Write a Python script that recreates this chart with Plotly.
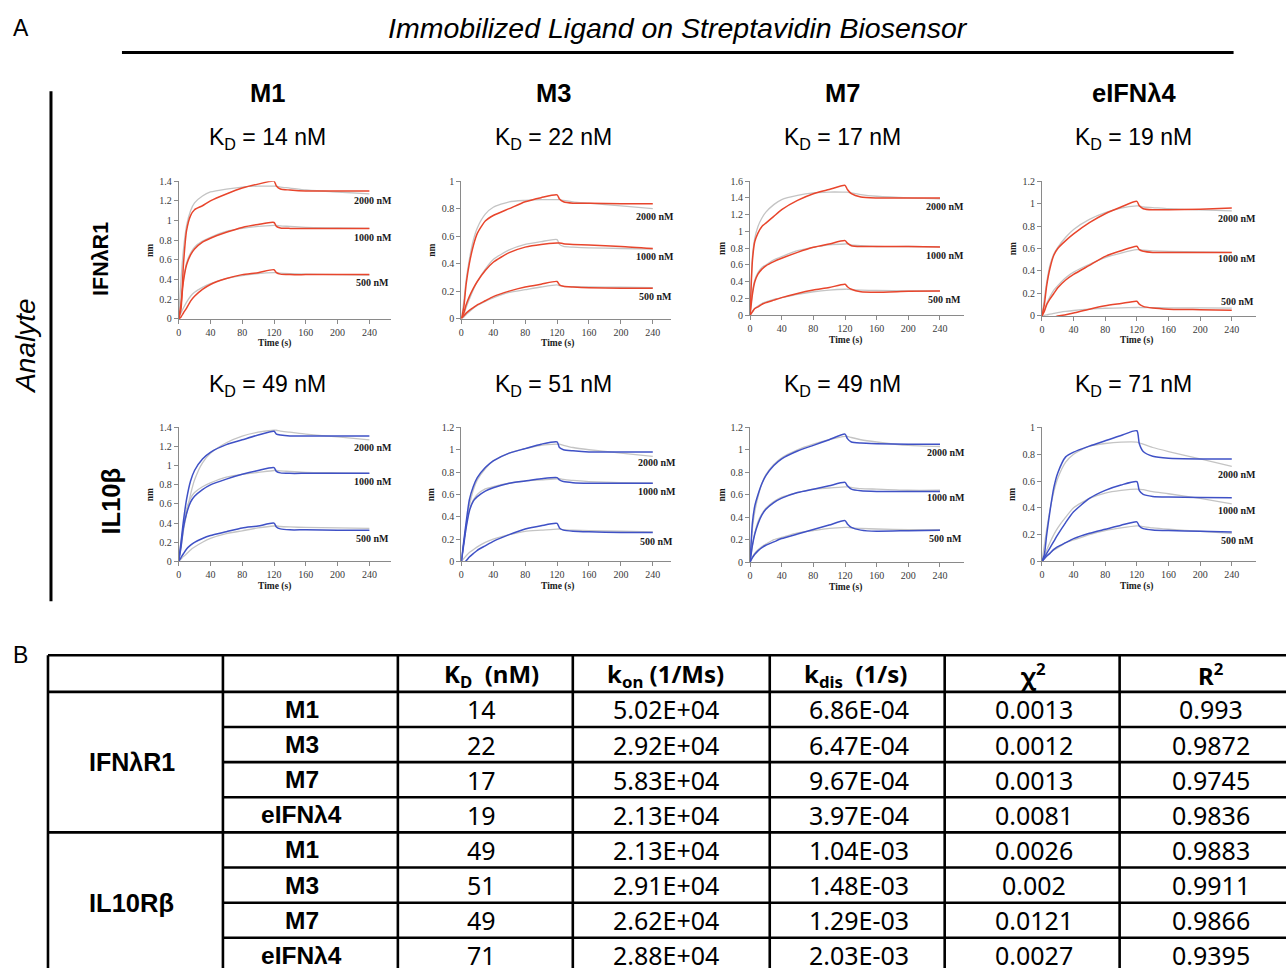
import plotly.graph_objects as go

W, H = 1286, 968
# small empirical correction so that rendered pixel positions match the reference
def px(x): return ((x - 2.0) / 0.998) / W
def py(y): return 1 - ((y - 4.5) / 0.9895) / H

# ---------------- data ----------------
T = [0, 3, 6, 10, 15, 20, 30, 40, 60, 80, 100, 120, 123, 128, 140, 160, 200, 240]

# IFNλR1 analyte, ligand M1
r1_m1_obs_2000 = [0, 0.10, 0.55, 0.90, 1.05, 1.11, 1.15, 1.20, 1.27, 1.33, 1.37, 1.40, 1.35, 1.32, 1.31, 1.30, 1.30, 1.30]
r1_m1_fit_2000 = [0, 0.40, 0.70, 0.95, 1.10, 1.18, 1.25, 1.29, 1.32, 1.34, 1.35, 1.35, 1.35, 1.34, 1.33, 1.31, 1.29, 1.27]
r1_m1_obs_1000 = [0, 0.15, 0.38, 0.55, 0.65, 0.71, 0.78, 0.82, 0.88, 0.93, 0.96, 0.98, 0.94, 0.925, 0.92, 0.92, 0.92, 0.92]
r1_m1_fit_1000 = [0, 0.20, 0.40, 0.57, 0.67, 0.73, 0.79, 0.83, 0.89, 0.92, 0.94, 0.95, 0.95, 0.945, 0.94, 0.93, 0.925, 0.92]
r1_m1_obs_500 = [0, 0.02, 0.06, 0.11, 0.18, 0.23, 0.30, 0.35, 0.41, 0.45, 0.47, 0.50, 0.47, 0.455, 0.45, 0.45, 0.45, 0.45]
r1_m1_fit_500 = [0, 0.06, 0.11, 0.17, 0.23, 0.27, 0.32, 0.36, 0.41, 0.44, 0.46, 0.47, 0.47, 0.465, 0.46, 0.455, 0.45, 0.445]

# IFNλR1 analyte, ligand M3
r1_m3_obs_2000 = [0, 0.08, 0.25, 0.40, 0.53, 0.62, 0.71, 0.75, 0.80, 0.85, 0.88, 0.90, 0.87, 0.85, 0.84, 0.84, 0.835, 0.835]
r1_m3_fit_2000 = [0, 0.12, 0.28, 0.43, 0.57, 0.66, 0.76, 0.81, 0.85, 0.86, 0.865, 0.865, 0.865, 0.86, 0.85, 0.84, 0.82, 0.80]
r1_m3_obs_1000 = [0, 0.04, 0.10, 0.16, 0.22, 0.27, 0.35, 0.41, 0.48, 0.52, 0.54, 0.55, 0.55, 0.545, 0.54, 0.535, 0.525, 0.51]
r1_m3_fit_1000 = [0, 0.03, 0.08, 0.14, 0.21, 0.27, 0.36, 0.43, 0.50, 0.54, 0.56, 0.575, 0.54, 0.525, 0.52, 0.515, 0.51, 0.505]
r1_m3_obs_500 = [0, 0.02, 0.04, 0.06, 0.08, 0.10, 0.13, 0.16, 0.20, 0.23, 0.25, 0.27, 0.245, 0.235, 0.23, 0.225, 0.22, 0.22]
r1_m3_fit_500 = [0, 0.01, 0.03, 0.05, 0.075, 0.095, 0.125, 0.15, 0.19, 0.21, 0.23, 0.245, 0.24, 0.235, 0.232, 0.23, 0.228, 0.225]

# IFNλR1 analyte, ligand M7
r1_m7_obs_2000 = [0, 0.65, 0.88, 0.98, 1.06, 1.10, 1.18, 1.26, 1.37, 1.45, 1.50, 1.55, 1.50, 1.45, 1.41, 1.40, 1.40, 1.40]
r1_m7_fit_2000 = [0, 0.70, 0.92, 1.06, 1.16, 1.23, 1.32, 1.38, 1.43, 1.46, 1.47, 1.47, 1.47, 1.46, 1.44, 1.42, 1.40, 1.39]
r1_m7_obs_1000 = [0, 0.25, 0.40, 0.49, 0.55, 0.59, 0.64, 0.68, 0.75, 0.81, 0.85, 0.89, 0.86, 0.83, 0.82, 0.82, 0.82, 0.815]
r1_m7_fit_1000 = [0, 0.28, 0.42, 0.51, 0.57, 0.60, 0.66, 0.70, 0.77, 0.81, 0.84, 0.85, 0.85, 0.84, 0.83, 0.82, 0.82, 0.815]
r1_m7_obs_500 = [0, 0.04, 0.08, 0.10, 0.13, 0.15, 0.18, 0.21, 0.26, 0.30, 0.33, 0.37, 0.34, 0.31, 0.28, 0.275, 0.285, 0.29]
r1_m7_fit_500 = [0, 0.05, 0.08, 0.11, 0.14, 0.16, 0.19, 0.21, 0.25, 0.28, 0.30, 0.31, 0.31, 0.305, 0.30, 0.295, 0.29, 0.29]

# IFNλR1 analyte, ligand eIFNλ4
r1_e4_obs_2000 = [0, 0.10, 0.27, 0.42, 0.54, 0.60, 0.67, 0.73, 0.83, 0.91, 0.97, 1.02, 0.98, 0.955, 0.945, 0.945, 0.95, 0.96]
r1_e4_fit_2000 = [0, 0.15, 0.30, 0.45, 0.55, 0.61, 0.70, 0.77, 0.86, 0.92, 0.96, 0.98, 0.98, 0.97, 0.965, 0.955, 0.945, 0.935]
r1_e4_obs_1000 = [0, 0.04, 0.10, 0.15, 0.20, 0.25, 0.32, 0.37, 0.45, 0.53, 0.58, 0.62, 0.59, 0.575, 0.565, 0.565, 0.565, 0.565]
r1_e4_fit_1000 = [0, 0.05, 0.11, 0.17, 0.23, 0.27, 0.34, 0.39, 0.46, 0.52, 0.56, 0.59, 0.59, 0.585, 0.58, 0.575, 0.57, 0.565]
r1_e4_obs_500 = [-0.05, -0.045, -0.04, -0.03, -0.015, 0.0, 0.01, 0.025, 0.06, 0.09, 0.11, 0.13, 0.105, 0.085, 0.07, 0.06, 0.055, 0.05]
r1_e4_fit_500 = [0, 0.005, 0.01, 0.015, 0.022, 0.03, 0.04, 0.048, 0.06, 0.068, 0.072, 0.075, 0.075, 0.074, 0.073, 0.072, 0.071, 0.07]

# IL10Rβ analyte, ligand M1
r2_m1_obs_2000 = [0, 0.20, 0.42, 0.65, 0.84, 0.95, 1.07, 1.14, 1.22, 1.27, 1.32, 1.36, 1.33, 1.32, 1.31, 1.31, 1.31, 1.31]
r2_m1_fit_2000 = [0, 0.15, 0.32, 0.50, 0.70, 0.85, 1.03, 1.13, 1.24, 1.31, 1.35, 1.37, 1.37, 1.36, 1.35, 1.33, 1.30, 1.27]
r2_m1_obs_1000 = [0, 0.15, 0.35, 0.50, 0.62, 0.68, 0.75, 0.80, 0.86, 0.91, 0.95, 0.98, 0.94, 0.925, 0.92, 0.92, 0.92, 0.92]
r2_m1_fit_1000 = [0, 0.20, 0.38, 0.55, 0.66, 0.72, 0.78, 0.82, 0.88, 0.91, 0.93, 0.95, 0.95, 0.945, 0.94, 0.93, 0.925, 0.92]
r2_m1_obs_500 = [0, 0.04, 0.08, 0.13, 0.17, 0.20, 0.24, 0.27, 0.31, 0.35, 0.37, 0.40, 0.36, 0.34, 0.33, 0.33, 0.325, 0.325]
r2_m1_fit_500 = [0, 0.025, 0.05, 0.08, 0.12, 0.15, 0.20, 0.24, 0.29, 0.32, 0.35, 0.37, 0.37, 0.365, 0.36, 0.355, 0.35, 0.345]

# IL10Rβ analyte, ligand M3
r2_m3_obs_2000 = [0, 0.18, 0.35, 0.55, 0.67, 0.75, 0.84, 0.90, 0.97, 1.01, 1.05, 1.07, 1.02, 1.00, 0.99, 0.98, 0.98, 0.98]
r2_m3_fit_2000 = [0, 0.16, 0.32, 0.50, 0.64, 0.73, 0.83, 0.90, 0.97, 1.01, 1.04, 1.05, 1.05, 1.04, 1.02, 1.00, 0.97, 0.94]
r2_m3_obs_1000 = [0, 0.15, 0.30, 0.45, 0.54, 0.58, 0.63, 0.66, 0.70, 0.72, 0.74, 0.75, 0.73, 0.715, 0.705, 0.70, 0.70, 0.70]
r2_m3_fit_1000 = [0, 0.17, 0.32, 0.46, 0.55, 0.60, 0.65, 0.67, 0.70, 0.72, 0.73, 0.74, 0.74, 0.735, 0.725, 0.715, 0.705, 0.70]
r2_m3_obs_500 = [-0.03, -0.015, 0.005, 0.04, 0.07, 0.10, 0.14, 0.18, 0.24, 0.29, 0.32, 0.34, 0.30, 0.28, 0.27, 0.265, 0.26, 0.26]
r2_m3_fit_500 = [0, 0.025, 0.05, 0.08, 0.105, 0.13, 0.17, 0.20, 0.24, 0.27, 0.28, 0.29, 0.29, 0.285, 0.28, 0.275, 0.27, 0.265]

# IL10Rβ analyte, ligand M7
r2_m7_obs_2000 = [0, 0.35, 0.50, 0.60, 0.70, 0.77, 0.86, 0.92, 0.99, 1.04, 1.09, 1.14, 1.10, 1.07, 1.06, 1.055, 1.05, 1.05]
r2_m7_fit_2000 = [0, 0.30, 0.45, 0.58, 0.70, 0.78, 0.87, 0.93, 1.00, 1.05, 1.09, 1.12, 1.12, 1.11, 1.09, 1.07, 1.04, 1.03]
r2_m7_obs_1000 = [0, 0.15, 0.25, 0.34, 0.42, 0.47, 0.53, 0.57, 0.62, 0.65, 0.68, 0.71, 0.68, 0.65, 0.635, 0.63, 0.63, 0.63]
r2_m7_fit_1000 = [0, 0.15, 0.26, 0.36, 0.43, 0.48, 0.54, 0.58, 0.62, 0.65, 0.66, 0.67, 0.67, 0.665, 0.655, 0.65, 0.64, 0.64]
r2_m7_obs_500 = [0, 0.04, 0.07, 0.10, 0.13, 0.15, 0.18, 0.21, 0.25, 0.29, 0.33, 0.37, 0.34, 0.31, 0.285, 0.275, 0.28, 0.285]
r2_m7_fit_500 = [0, 0.045, 0.08, 0.11, 0.14, 0.16, 0.20, 0.22, 0.26, 0.28, 0.30, 0.31, 0.31, 0.305, 0.30, 0.295, 0.29, 0.29]

# IL10Rβ analyte, ligand eIFNλ4
r2_e4_obs_2000 = [0, 0.05, 0.20, 0.37, 0.55, 0.66, 0.78, 0.815, 0.86, 0.90, 0.94, 0.975, 0.88, 0.82, 0.785, 0.77, 0.765, 0.765]
r2_e4_fit_2000 = [0, 0.12, 0.24, 0.38, 0.52, 0.62, 0.74, 0.80, 0.86, 0.88, 0.89, 0.89, 0.885, 0.875, 0.85, 0.82, 0.765, 0.71]
r2_e4_obs_1000 = [0, 0.03, 0.06, 0.10, 0.15, 0.20, 0.29, 0.37, 0.47, 0.53, 0.57, 0.595, 0.53, 0.50, 0.485, 0.48, 0.477, 0.475]
r2_e4_fit_1000 = [0, 0.04, 0.085, 0.14, 0.20, 0.25, 0.33, 0.40, 0.47, 0.51, 0.53, 0.54, 0.538, 0.535, 0.52, 0.505, 0.47, 0.43]
r2_e4_obs_500 = [0, 0.02, 0.04, 0.06, 0.09, 0.11, 0.14, 0.17, 0.21, 0.24, 0.27, 0.295, 0.265, 0.245, 0.235, 0.23, 0.225, 0.22]
r2_e4_fit_500 = [0, 0.02, 0.04, 0.06, 0.085, 0.10, 0.14, 0.16, 0.20, 0.23, 0.25, 0.265, 0.265, 0.26, 0.25, 0.24, 0.225, 0.21]

ligands = ["M1", "M3", "M7", "eIFNλ4"]
row_labels = ["IFNλR1", "IL10β"]
conc_labels = ["2000 nM", "1000 nM", "500 nM"]
y_max = [1.4, 1.0, 1.6, 1.2, 1.4, 1.2, 1.2, 1.0]
x_ticks = [0, 40, 80, 120, 160, 200, 240]

# table values
tbl_analytes = ["IFNλR1", "IL10Rβ"]
tbl_ligands = ["M1", "M3", "M7", "eIFNλ4"]
tbl_kd = ["14", "22", "17", "19", "49", "51", "49", "71"]
tbl_kon = ["5.02E+04", "2.92E+04", "5.83E+04", "2.13E+04", "2.13E+04", "2.91E+04", "2.62E+04", "2.88E+04"]
tbl_kdis = ["6.86E-04", "6.47E-04", "9.67E-04", "3.97E-04", "1.04E-03", "1.48E-03", "1.29E-03", "2.03E-03"]
tbl_chi2 = ["0.0013", "0.0012", "0.0013", "0.0081", "0.0026", "0.002", "0.0121", "0.0027"]
tbl_r2 = ["0.993", "0.9872", "0.9745", "0.9836", "0.9883", "0.9911", "0.9866", "0.9395"]
tbl_header = ["K<sub>D</sub>  (nM)", "k<sub>on</sub> (1/Ms)", "k<sub>dis</sub>  (1/s)", "χ<sup>2</sup>", "R<sup>2</sup>"]

panels_obs = [
    [r1_m1_obs_2000, r1_m1_obs_1000, r1_m1_obs_500],
    [r1_m3_obs_2000, r1_m3_obs_1000, r1_m3_obs_500],
    [r1_m7_obs_2000, r1_m7_obs_1000, r1_m7_obs_500],
    [r1_e4_obs_2000, r1_e4_obs_1000, r1_e4_obs_500],
    [r2_m1_obs_2000, r2_m1_obs_1000, r2_m1_obs_500],
    [r2_m3_obs_2000, r2_m3_obs_1000, r2_m3_obs_500],
    [r2_m7_obs_2000, r2_m7_obs_1000, r2_m7_obs_500],
    [r2_e4_obs_2000, r2_e4_obs_1000, r2_e4_obs_500],
]
panels_fit = [
    [r1_m1_fit_2000, r1_m1_fit_1000, r1_m1_fit_500],
    [r1_m3_fit_2000, r1_m3_fit_1000, r1_m3_fit_500],
    [r1_m7_fit_2000, r1_m7_fit_1000, r1_m7_fit_500],
    [r1_e4_fit_2000, r1_e4_fit_1000, r1_e4_fit_500],
    [r2_m1_fit_2000, r2_m1_fit_1000, r2_m1_fit_500],
    [r2_m3_fit_2000, r2_m3_fit_1000, r2_m3_fit_500],
    [r2_m7_fit_2000, r2_m7_fit_1000, r2_m7_fit_500],
    [r2_e4_fit_2000, r2_e4_fit_1000, r2_e4_fit_500],
]

# ---------------- layout geometry (pixels) ----------------
col_x0 = [177.7, 460.5, 749.3, 1041.3]
col_x240 = [368.5, 652.0, 939.3, 1231.2]
col_x1 = [390.5, 670.0, 963.3, 1255.0]
row_top = [180.0, 426.7]
row_bot = [[318.0, 317.7, 314.3, 315.0], [561.0, 561.0, 561.7, 561.0]]
label_y = [[1.207, 0.832, 0.365], [0.746, 0.45, 0.158], [1.302, 0.718, 0.183], [0.871, 0.507, 0.124],
           [1.188, 0.834, 0.24], [0.885, 0.625, 0.179], [0.975, 0.575, 0.21], [0.648, 0.38, 0.156]]
label_t = [244, 243, 246, 247, 244, 245, 247, 247]
nm_x = [149, 431, 721, 1012]
line_colors = ["#E8452C", "#3F51C6"]
SERIF = "Liberation Serif"
SANS = "Liberation Sans"

fig = go.Figure()
layout = dict(width=W, height=H, margin=dict(l=0, r=0, t=0, b=0), plot_bgcolor="white",
              paper_bgcolor="white", showlegend=False)
annotations = []
shapes = []

def note(x, y, text, size, family=SANS, xref="paper", yref="paper", angle=0, color="black"):
    annotations.append(dict(x=x, y=y, xref=xref, yref=yref, text=text, showarrow=False,
                            xanchor="center", yanchor="middle", textangle=angle,
                            font=dict(family=family, size=size, color=color)))

for p in range(8):
    r, c = divmod(p, 4)
    sfx = "" if p == 0 else str(p + 1)
    xr = 240 * (col_x1[c] - col_x0[c]) / (col_x240[c] - col_x0[c])
    ticks_y = [round(0.2 * k, 1) for k in range(int(round(y_max[p] / 0.2)) + 1)]
    layout["xaxis" + sfx] = dict(
        domain=[px(col_x0[c]), px(col_x1[c])], anchor="y" + sfx, range=[0, xr],
        tickvals=x_ticks, ticktext=[str(v) for v in x_ticks],
        showline=True, linecolor="#8a8a8a", linewidth=1, ticks="outside", ticklen=4,
        tickcolor="#8a8a8a", showgrid=False, zeroline=False,
        tickfont=dict(family=SERIF, size=10, color="#3a3a3a"))
    layout["yaxis" + sfx] = dict(
        domain=[py(row_bot[r][c]), py(row_top[r])], anchor="x" + sfx, range=[0, y_max[p]],
        tickvals=ticks_y, ticktext=[f"{v:g}" for v in ticks_y],
        showline=True, linecolor="#8a8a8a", linewidth=1, ticks="outside", ticklen=4,
        tickcolor="#8a8a8a", showgrid=False, zeroline=False,
        tickfont=dict(family=SERIF, size=10, color="#3a3a3a"))
    for k in range(3):
        fig.add_trace(go.Scatter(x=T, y=panels_fit[p][k], mode="lines", xaxis="x" + sfx, yaxis="y" + sfx,
                                 line=dict(color="#C4C4C4", width=1.3, shape="spline", smoothing=0.6),
                                 hoverinfo="skip"))
    for k in range(3):
        fig.add_trace(go.Scatter(x=T, y=panels_obs[p][k], mode="lines", xaxis="x" + sfx, yaxis="y" + sfx,
                                 line=dict(color=line_colors[r], width=1.5, shape="spline", smoothing=0.6),
                                 hoverinfo="skip"))
        note(label_t[p], label_y[p][k], "<b>" + conc_labels[k] + "</b>", 10, SERIF,
             xref="x" + sfx, yref="y" + sfx, color="#1a1a1a")
    note(120, py(row_bot[r][c] + 25), "<b>Time (s)</b>", 9.5, SERIF, xref="x" + sfx, color="#1a1a1a")
    note(px(nm_x[c]), py((row_top[r] + row_bot[r][c]) / 2), "<b>nm</b>", 9.5, SERIF, angle=-90, color="#1a1a1a")

# headings
col_centers = [267, 553, 842, 1133]
for c in range(4):
    note(px(col_centers[c]), py(92), "<b>" + ligands[c] + "</b>", 25.5)
    for r, yy in enumerate([137, 385]):
        note(px(col_centers[c]), py(yy), "K<sub>D</sub> = " + tbl_kd[r * 4 + c] + " nM", 23)

note(px(20), py(27), "A", 23)
note(px(677), py(27), "<i>Immobilized Ligand on Streptavidin Biosensor</i>", 28.5)
note(px(25), py(345), "<i>Analyte</i>", 28, angle=-90)
for r, (xx, yy, fs) in enumerate([(100, 258, 21.5), (110, 500, 25.5)]):
    note(px(xx), py(yy), "<b>" + row_labels[r] + "</b>", fs, angle=-90)

shapes.append(dict(type="line", xref="paper", yref="paper", x0=px(121), x1=px(1233), y0=py(51), y1=py(51),
                   line=dict(color="black", width=3)))
shapes.append(dict(type="line", xref="paper", yref="paper", x0=px(50), x1=px(50), y0=py(90), y1=py(601),
                   line=dict(color="black", width=3)))

# ---------------- table (panel B) ----------------
note(px(20), py(655), "B", 23)
tx = [47, 222, 397, 572, 769, 944, 1119, 1302]
t_top, t_head, rh = 655.0, 691.7, 35.2
TBL_FONT = "Noto Sans"
lw = 2.6
shapes.append(dict(type="line", xref="paper", yref="paper", x0=px(tx[0]), x1=px(1300), y0=py(t_top), y1=py(t_top),
                   line=dict(color="black", width=lw)))
shapes.append(dict(type="line", xref="paper", yref="paper", x0=px(tx[0]), x1=px(1300), y0=py(t_head), y1=py(t_head),
                   line=dict(color="black", width=lw)))
for k in range(1, 8):
    yl = t_head + rh * k
    x0 = tx[0] if k == 4 else tx[1]
    shapes.append(dict(type="line", xref="paper", yref="paper", x0=px(x0), x1=px(1300), y0=py(yl), y1=py(yl),
                       line=dict(color="black", width=lw)))
for xv in tx:
    shapes.append(dict(type="line", xref="paper", yref="paper", x0=px(xv), x1=px(xv), y0=py(t_top), y1=py(990),
                       line=dict(color="black", width=lw)))

head_x = [491, 665, 855, 1033, 1210]
val_x = [481, 665, 858, 1033, 1210]
for j in range(5):
    note(px(head_x[j]), py((t_top + t_head) / 2 + 1), "<b>" + tbl_header[j] + "</b>", 24, TBL_FONT)
for g, fs in enumerate([25, 25.5]):
    note(px(131), py(t_head + rh * (4 * g + 2)), "<b>" + tbl_analytes[g] + "</b>", fs)
cols = [tbl_kd, tbl_kon, tbl_kdis, tbl_chi2, tbl_r2]
for i in range(8):
    yc = py(t_head + rh * (i + 0.5))
    note(px(301), yc, "<b>" + tbl_ligands[i % 4] + "</b>", 24.5)
    for j, col in enumerate(cols):
        note(px(val_x[j]), yc, col[i], 25, TBL_FONT)

layout["annotations"] = annotations
layout["shapes"] = shapes
fig.update_layout(**layout)
fig.write_html(
    "out.html",
    config={"displayModeBar": False, "staticPlot": True},
    post_script=("document.documentElement.style.margin='0';document.body.style.margin='0';"
                 "document.body.style.padding='0';document.documentElement.style.overflow='hidden';"
                 "document.body.style.overflow='hidden';document.body.style.height='968px';"),
)
